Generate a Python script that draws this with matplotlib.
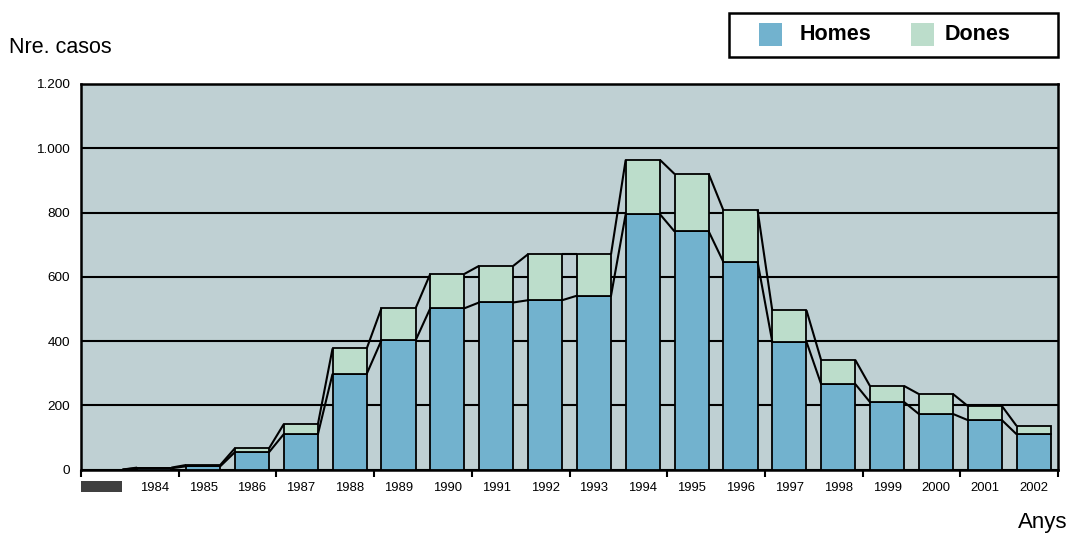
import matplotlib
matplotlib.use("Agg")
import matplotlib.pyplot as plt
import matplotlib.transforms as mtransforms
from matplotlib.patches import Rectangle
import numpy as np

plt.rcParams['font.family'] = ['Liberation Sans', 'DejaVu Sans']

# Category labels (first category has no year)
years = ["", "1984", "1985", "1986", "1987", "1988", "1989", "1990", "1991", "1992",
         "1993", "1994", "1995", "1996", "1997", "1998", "1999", "2000", "2001", "2002"]
homes = [0, 4, 10, 54, 110, 298, 402, 502, 520, 527,
         541, 795, 741, 646, 398, 266, 210, 173, 154, 110]
dones = [0, 2, 4, 12, 31, 79, 100, 107, 114, 143,
         129, 169, 179, 161, 98, 75, 50, 62, 44, 26]
series_names = ["Homes", "Dones"]

c_homes = "#72B2CE"
c_dones = "#BCDDCB"
c_plot = "#BFD0D3"

W, H = 1071, 536
fig = plt.figure(figsize=(W / 100, H / 100), dpi=100)
ax = fig.add_axes([0.0756, 0.124, 0.9123, 0.7193])
ax.set_facecolor(c_plot)

x = np.arange(len(years))
h = np.array(homes, dtype=float)
d = np.array(dones, dtype=float)
tot = h + d
w = 0.70

ax.set_axisbelow(True)
ax.yaxis.grid(True, color="black", linewidth=1.5)

ax.bar(x, h, width=w, color=c_homes, edgecolor="black", linewidth=1.3, zorder=3)
ax.bar(x, d, width=w, bottom=h, color=c_dones, edgecolor="black", linewidth=1.3, zorder=3)

# Series lines joining neighbouring segment tops
for i in range(len(x) - 1):
    for s in (h, tot):
        ax.plot([x[i] + w / 2, x[i + 1] - w / 2], [s[i], s[i + 1]],
                color="black", linewidth=1.5, zorder=4, solid_capstyle="butt")

ax.set_xlim(-0.5, len(x) - 0.5)
ax.set_ylim(0, 1200)
ax.set_yticks(np.arange(0, 1201, 200))
ax.set_yticklabels(["0", "200", "400", "600", "800", "1.000", "1.200"], fontsize=9.7)
ax.tick_params(axis="y", length=0, pad=8)

ax.set_xticks(np.arange(-0.5, len(x), 2))
ax.set_xticklabels([])
ax.tick_params(axis="x", which="major", length=5, width=1.5, direction="out")
ax.set_xticks(x, minor=True)
ax.set_xticklabels(years, minor=True, fontsize=9.4)
ax.tick_params(axis="x", which="minor", length=0, pad=9)

for sp in ax.spines.values():
    sp.set_linewidth(1.8)
    sp.set_color("black")

# Dark placeholder box under the first category
trans = mtransforms.blended_transform_factory(ax.transData, ax.transAxes)
ax.add_patch(Rectangle((-0.5, -0.0584), 0.84, 0.0285, transform=trans,
                       facecolor="#404040", edgecolor="none", clip_on=False))

fig.text(0.008, 0.912, "Nre. casos", fontsize=15.5, va="center", ha="left")
fig.text(0.997, 0.005, "Anys", fontsize=16, va="bottom", ha="right")

# Legend box drawn in pixel-based figure coordinates
def px(xp, yp):
    return xp / W, 1 - yp / H

bx0, by0 = px(729, 57)
bx1, by1 = px(1058, 13)
fig.patches.append(Rectangle((bx0, by0), bx1 - bx0, by1 - by0, transform=fig.transFigure,
                             facecolor="white", edgecolor="black", linewidth=1.8))
for name, col, sx, tx in zip(series_names, [c_homes, c_dones], [759, 911], [800, 945]):
    ax0, ay0 = px(sx, 46)
    ax1, ay1 = px(sx + 23, 23)
    fig.patches.append(Rectangle((ax0, ay0), ax1 - ax0, ay1 - ay0, transform=fig.transFigure,
                                 facecolor=col, edgecolor="none"))
    tx_, ty_ = px(tx, 35)
    fig.text(tx_, ty_, name, fontsize=15.5, fontweight="bold", va="center", ha="left")

fig.savefig("out.png", dpi=100)
